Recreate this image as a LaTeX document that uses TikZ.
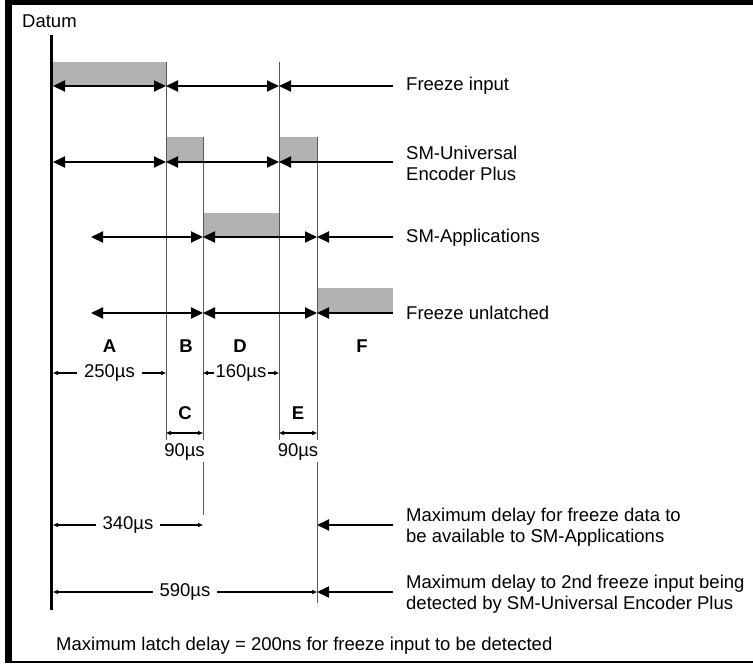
\documentclass[tikz,border=0pt]{standalone}
\usepackage{fontspec}
\setmainfont{Liberation Sans}
\usetikzlibrary{arrows.meta}

\begin{document}
\begin{tikzpicture}[x=1pt,y=-1pt,
  every node/.style={font=\fontsize{18.5}{21}\selectfont,inner sep=0pt},
  big/.style={line width=2pt,-{Triangle[length=12pt,width=11pt]}},
  bigboth/.style={line width=2pt,{Triangle[length=12pt,width=11pt]}-{Triangle[length=12pt,width=11pt]}},
  dim/.style={line width=1.2pt,{Triangle[length=5pt,width=4pt]}-{Triangle[length=5pt,width=4pt]}},
  guide/.style={line width=0.9pt,black!65},
  shade/.style={fill=black!30},
  lbl/.style={anchor=west,align=left},
  tag/.style={font=\fontsize{18.5}{21}\selectfont\bfseries}]

\useasboundingbox (0,0) rectangle (753,664);

\fill (5,0) rectangle (753,5);
\fill (5,0) rectangle (12,663);
\fill (5,661) rectangle (753,663);

\fill[shade] (52,62) rectangle (166,86);
\fill[shade] (166,137) rectangle (203,162);
\fill[shade] (279,137) rectangle (317,162);
\fill[shade] (203,213) rectangle (279,237);
\fill[shade] (317,288) rectangle (393,313);

\draw[guide] (166,62) -- (166,440);
\draw[guide] (279,62) -- (279,440);
\draw[guide] (203,137) -- (203,440) (203,462) -- (203,515);
\draw[guide] (317,137) -- (317,440) (317,462) -- (317,603);

\node[lbl] (datum) at (22,21) {Datum};
\coordinate (d0) at (51.5,35);
\coordinate (d1) at (51.5,610);
\draw[line width=3pt] (d0) -- (d1);

\coordinate (fi0) at (53,86);
\coordinate (fi1) at (166,86);
\coordinate (fi2) at (279,86);
\coordinate (fi3) at (393,86);
\coordinate (su0) at (53,162);
\coordinate (su1) at (166,162);
\coordinate (su2) at (279,162);
\coordinate (su3) at (393,162);
\coordinate (sa0) at (91,237);
\coordinate (sa1) at (203,237);
\coordinate (sa2) at (317,237);
\coordinate (sa3) at (393,237);
\coordinate (fu0) at (91,313);
\coordinate (fu1) at (203,313);
\coordinate (fu2) at (317,313);
\coordinate (fu3) at (393,313);

\path (fi0) edge[bigboth] (fi1);
\path (fi1) edge[bigboth] (fi2);
\path (fi3) edge[big] (fi2);
\path (su0) edge[bigboth] (su1);
\path (su1) edge[bigboth] (su2);
\path (su3) edge[big] (su2);
\path (sa0) edge[bigboth] (sa1);
\path (sa1) edge[bigboth] (sa2);
\path (sa3) edge[big] (sa2);
\path (fu0) edge[bigboth] (fu1);
\path (fu1) edge[bigboth] (fu2);
\path (fu3) edge[big] (fu2);

\node[lbl] (fi) at (406,86) {Freeze input};
\node[lbl] (su) at (406,163) {SM-Universal\\Encoder Plus};
\node[lbl] (sa) at (406,238) {SM-Applications};
\node[lbl] (fu) at (406,313) {Freeze unlatched};

\node[tag] (A) at (109.5,346) {A};
\node[tag] (B) at (186,346) {B};
\node[tag] (D) at (240,346) {D};
\node[tag] (F) at (362,346) {F};
\node[tag] (C) at (185,413) {C};
\node[tag] (E) at (298,413) {E};

\coordinate (t250a) at (53,373);
\coordinate (t250b) at (166,373);
\coordinate (t160a) at (203,373);
\coordinate (t160b) at (279,373);
\path (t250a) edge[dim] node[fill=white,inner xsep=7pt,inner ysep=2pt] {250µs} (t250b);
\path (t160a) edge[dim] node[fill=white,inner xsep=2pt,inner ysep=2pt] {160µs} (t160b);

\coordinate (c90a) at (166,433);
\coordinate (c90b) at (203,433);
\coordinate (e90a) at (279,433);
\coordinate (e90b) at (317,433);
\path (c90a) edge[dim] (c90b);
\path (e90a) edge[dim] (e90b);
\node (c90) at (184.5,452) {90µs};
\node (e90) at (298,452) {90µs};

\coordinate (t340a) at (53,525);
\coordinate (t340b) at (203,525);
\coordinate (t590a) at (53,592);
\coordinate (t590b) at (317,592);
\path (t340a) edge[dim] node[fill=white,inner xsep=7pt,inner ysep=2pt] {340µs} (t340b);
\path (t590a) edge[dim] node[fill=white,inner xsep=7pt,inner ysep=2pt] {590µs} (t590b);

\coordinate (m1a) at (393,525);
\coordinate (m1b) at (317,525);
\coordinate (m2a) at (393,592);
\coordinate (m2b) at (317,592);
\path (m1a) edge[big] (m1b);
\path (m2a) edge[big] (m2b);

\node[lbl] (avail) at (406,527) {Maximum delay for freeze data to\\be available to SM-Applications};
\node[lbl] (detect) at (406,594) {Maximum delay to 2nd freeze input being\\detected by SM-Universal Encoder Plus};

\node[lbl] (note) at (56,646) {Maximum latch delay = 200ns for freeze input to be detected};

\end{tikzpicture}
\end{document}
